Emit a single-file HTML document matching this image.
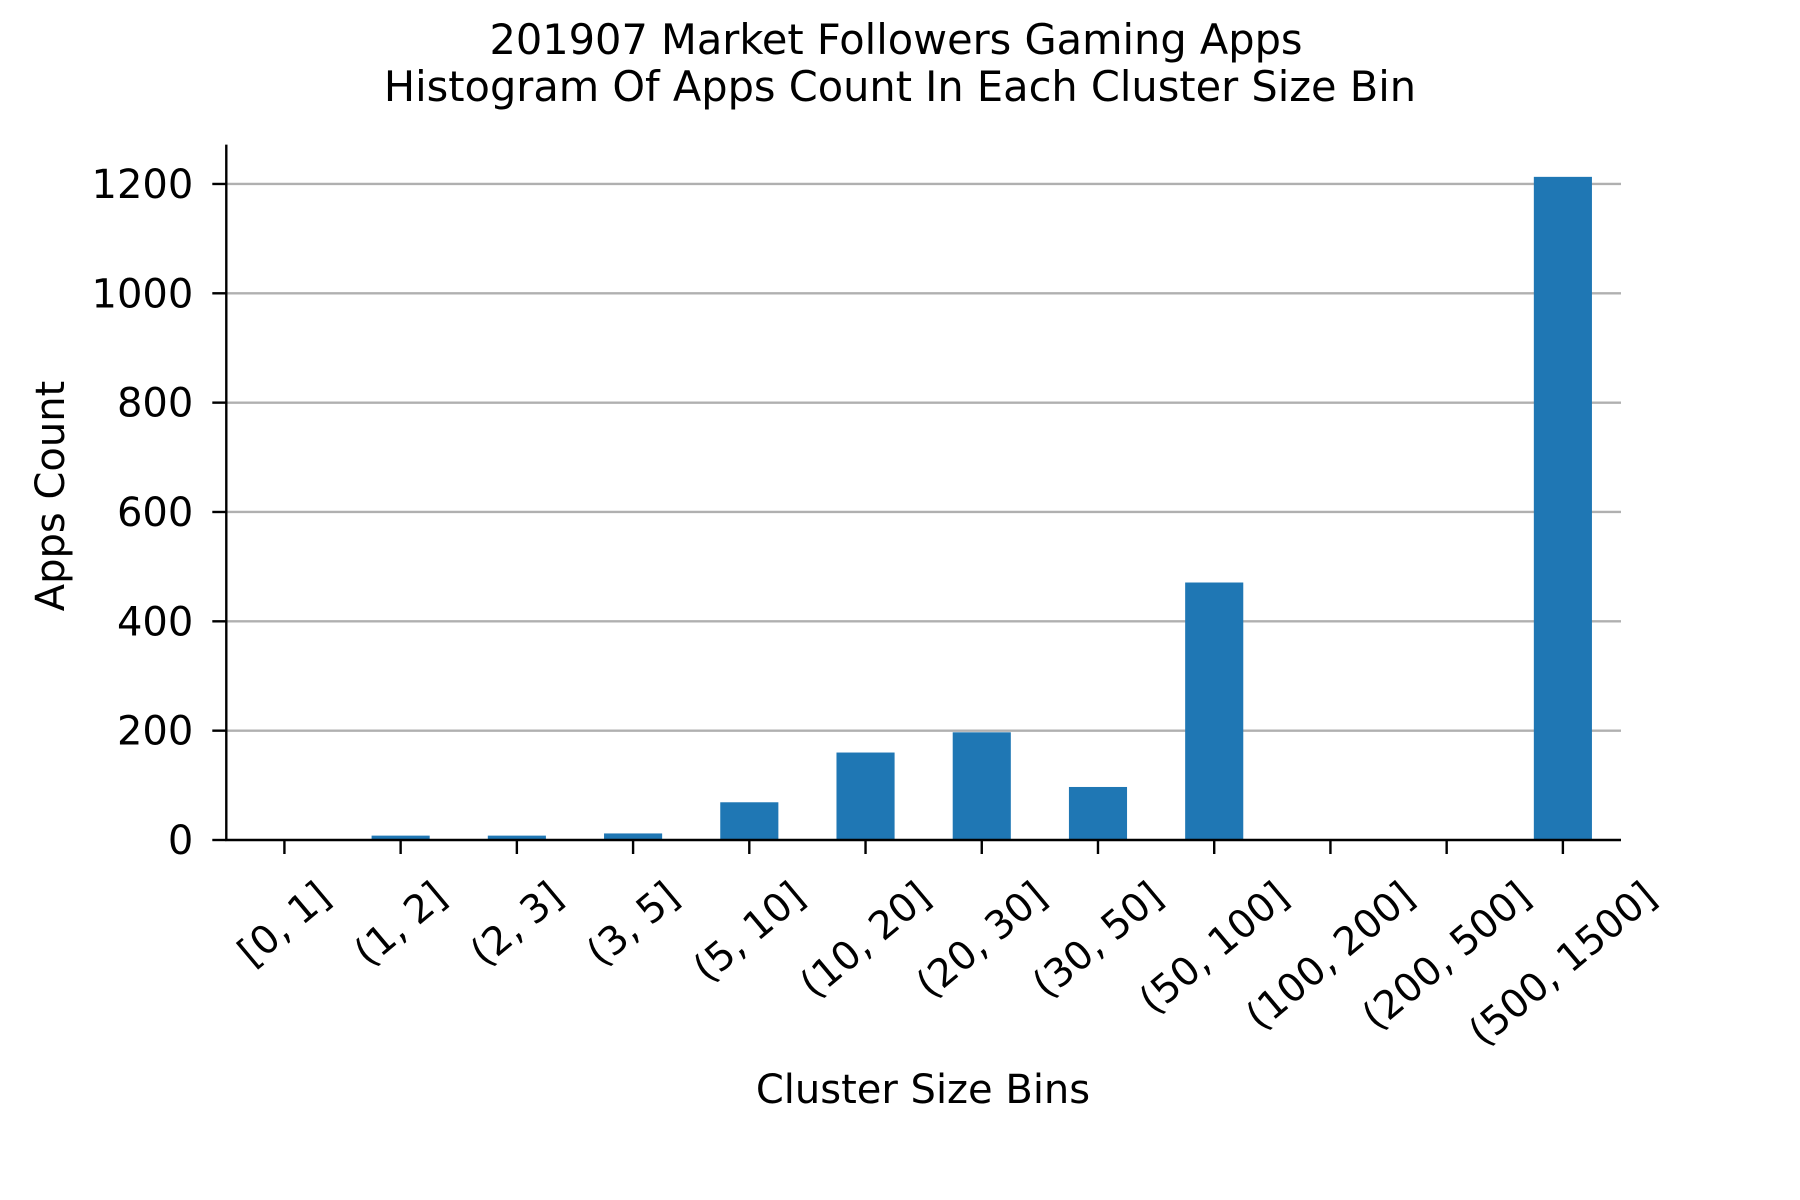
<!DOCTYPE html>
<html><head><meta charset="utf-8"><style>
html,body{margin:0;padding:0;background:#fff}
svg{display:block;font-family:"DejaVu Sans","Liberation Sans",sans-serif}
</style></head><body>
<svg id="chart" width="1800" height="1200" viewBox="0 0 1800 1200" xmlns="http://www.w3.org/2000/svg">
<rect width="1800" height="1200" fill="#fff"/>
<text x="896" y="54" font-size="41.5" text-anchor="middle">201907 Market Followers Gaming Apps</text>
<text x="900" y="101" font-size="41.5" text-anchor="middle">Histogram Of Apps Count In Each Cluster Size Bin</text>
<g id="grid"></g>
<g id="bars"></g>
<g id="axes"></g>
<text x="923" y="1103" font-size="40" text-anchor="middle">Cluster Size Bins</text>
<text transform="translate(64,496) rotate(-90)" font-size="40" text-anchor="middle">Apps Count</text>
</svg>
<script>
const categories = ["[0, 1]","(1, 2]","(2, 3]","(3, 5]","(5, 10]","(10, 20]","(20, 30]","(30, 50]","(50, 100]","(100, 200]","(200, 500]","(500, 1500]"];
const counts = [0, 8, 8, 12, 69, 160, 197, 97, 471, 0, 0, 1213];
const yTicks = [0, 200, 400, 600, 800, 1000, 1200];
const yMax = 1272;

const NS = "http://www.w3.org/2000/svg";
const L = 226.3, R = 1621, T = 144.6, B = 840;
const n = categories.length;
const xs = i => L + (i + 0.5) * (R - L) / n;
const ys = v => B - v / yMax * (B - T);
const bw = 0.5 * (R - L) / n;
function mk(tag, attrs, parent) { const e = document.createElementNS(NS, tag); for (const k in attrs) e.setAttribute(k, attrs[k]); parent.appendChild(e); return e; }
const gridG = document.getElementById('grid'), barsG = document.getElementById('bars'), axesG = document.getElementById('axes');

yTicks.forEach(t => {
  const y = ys(t);
  if (t > 0) {
    const g = mk('line', {x1: L, x2: R, y1: y, y2: y, stroke: '#b0b0b0', 'stroke-width': 2.4}, gridG);
    
    
  }
  const tk = mk('line', {x1: L - 14, x2: L, y1: y, y2: y, stroke: '#000', 'stroke-width': 2.4}, axesG);
  
  
  const lb = mk('text', {x: L - 33, y: y + 14, 'font-size': 40, 'text-anchor': 'end'}, axesG);
  lb.textContent = t;
  
  
});

counts.forEach((v, i) => {
  if (v > 0) {
    const r = mk('rect', {x: xs(i) - bw / 2, y: ys(v), width: bw, height: B - ys(v), fill: '#1f77b4'}, barsG);
    
    
  }
});

const ya = mk('line', {x1: L, x2: L, y1: T, y2: B + 1, stroke: '#000', 'stroke-width': 2.4}, axesG);


const xa = mk('line', {x1: L - 1, x2: R, y1: B, y2: B, stroke: '#000', 'stroke-width': 2.4}, axesG);



const ang = 40 * Math.PI / 180, labelTop = 876, fs = 39;
categories.forEach((c, i) => {
  const x = xs(i);
  const tk = mk('line', {x1: x, x2: x, y1: B, y2: B + 14, stroke: '#000', 'stroke-width': 2.4}, axesG);
  
  
  const lb = mk('text', {'font-size': fs, 'text-anchor': 'middle', 'dominant-baseline': 'central'}, axesG);
  lb.textContent = c;
  
  
  let w = c.length * fs * 0.6;
  try { const m = lb.getComputedTextLength(); if (m > 0) w = m; } catch (e) {}
  const cy = labelTop + (w * Math.sin(ang) + fs * Math.cos(ang)) / 2;
  lb.setAttribute('transform', 'translate(' + x + ',' + cy + ') rotate(-40)');
});
</script>
</body></html>
